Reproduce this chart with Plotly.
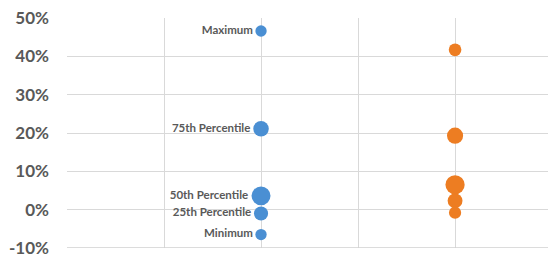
import plotly.graph_objects as go

labels = ["Maximum", "75th Percentile", "50th Percentile", "25th Percentile", "Minimum"]
series_a_x = [1, 1, 1, 1, 1]
series_a_y = [0.466, 0.211, 0.036, -0.010, -0.065]
series_a_bubble = [6.4, 12, 18, 10, 6.4]
series_b_x = [2, 2, 2, 2, 2]
series_b_y = [0.417, 0.193, 0.065, 0.023, -0.008]
series_b_bubble = [8, 13, 18.5, 11, 7.5]
y_ticks = [-0.1, 0, 0.1, 0.2, 0.3, 0.4, 0.5]
y_ticktext = ["-10%", "0%", "10%", "20%", "30%", "40%", "50%"]

FONT = "Lato, Carlito, Calibri, 'Open Sans', sans-serif"
GRAY = "#595959"

fig = go.Figure()
fig.add_trace(go.Scatter(
    x=series_a_x, y=series_a_y, mode="markers+text", text=labels,
    textposition="middle left",
    textfont=dict(family=FONT, size=11.5, color=GRAY, weight="bold"),
    marker=dict(size=series_a_bubble, sizemode="area", sizeref=0.1, color="#4A8FD3",
                opacity=1, line=dict(width=0)),
    opacity=1, hoverinfo="skip", showlegend=False, cliponaxis=False,
))
fig.add_trace(go.Scatter(
    x=series_b_x, y=series_b_y, mode="markers",
    marker=dict(size=series_b_bubble, sizemode="area", sizeref=0.1, color="#ED7D22",
                opacity=1, line=dict(width=0)),
    opacity=1, hoverinfo="skip", showlegend=False, cliponaxis=False,
))
fig.update_layout(
    width=548, height=257,
    margin=dict(l=67, r=0, t=18, b=9),
    paper_bgcolor="white", plot_bgcolor="white",
    font=dict(family=FONT, color=GRAY),
    xaxis=dict(range=[0, 2.479], dtick=0.5, tick0=0, showgrid=True, gridcolor="#d9d9d9", gridwidth=1,
               showticklabels=False, zeroline=False, showline=False, fixedrange=True,
               automargin=False),
    yaxis=dict(range=[-0.1, 0.5], tickvals=y_ticks, ticktext=y_ticktext, showgrid=True,
               gridcolor="#d9d9d9", gridwidth=1, zeroline=False, showline=False,
               tickfont=dict(family=FONT, size=17, color=GRAY, weight="bold"),
               ticklabelstandoff=17, ticklabeloverflow="allow", fixedrange=True, automargin=False),
)
fig.add_shape(type="line", xref="paper", yref="y", x0=0, x1=1, y0=-0.1, y1=-0.1,
              line=dict(color="#d0d0d0", width=1.5))
fig.write_html("out.html", config={"displayModeBar": False},
               post_script="document.body.style.margin='0';document.body.style.padding='0';")
